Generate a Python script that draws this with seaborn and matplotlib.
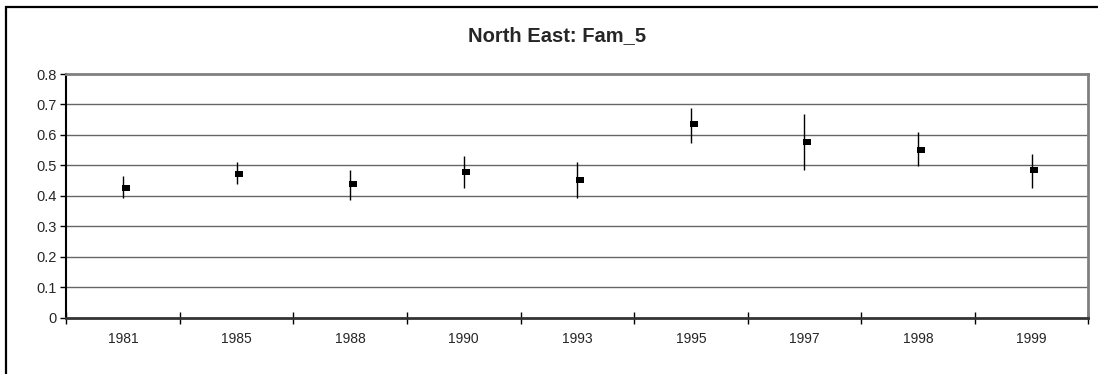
import matplotlib
matplotlib.use("Agg")
import matplotlib.pyplot as plt
import matplotlib.transforms as mtransforms
from matplotlib.patches import Rectangle
import numpy as np
import pandas as pd
import seaborn as sns

# Survey years, point estimates and interval bounds
years = ["1981", "1985", "1988", "1990", "1993", "1995", "1997", "1998", "1999"]
estimate = [0.427, 0.473, 0.440, 0.479, 0.453, 0.637, 0.578, 0.551, 0.486]
lower = [0.393, 0.439, 0.385, 0.425, 0.392, 0.575, 0.484, 0.498, 0.425]
upper = [0.466, 0.512, 0.486, 0.532, 0.512, 0.689, 0.670, 0.609, 0.538]
y_ticks = [0, 0.1, 0.2, 0.3, 0.4, 0.5, 0.6, 0.7, 0.8]
y_tick_labels = ["0", "0.1", "0.2", "0.3", "0.4", "0.5", "0.6", "0.7", "0.8"]

df = pd.DataFrame({"year": years, "estimate": estimate,
                   "lower": lower, "upper": upper})

sns.set_theme(style="white")
plt.rcParams["font.family"] = ["Liberation Sans", "DejaVu Sans"]

W, H = 1098, 374
fig = plt.figure(figsize=(W / 100, H / 100), dpi=100)
ax = fig.add_axes([66.3 / W, 1 - 317.7 / H, (1088.3 - 66.3) / W, (317.7 - 74) / H])

# Chart frame around the whole figure
fig.patches.append(Rectangle((6 / W, -0.1), 1.2, 1 - 7 / H + 0.1,
                             transform=fig.transFigure, fill=False,
                             edgecolor="black", linewidth=1.6, zorder=0))

# Error bars (vertical lines at each category)
pos = np.arange(len(years))
ax.vlines(pos, df["lower"], df["upper"], color="black", linewidth=1.0, zorder=3)

# Point estimates as small rectangular markers
rect_marker = [(-1.4, -1.0), (1.4, -1.0), (1.4, 1.0), (-1.4, 1.0), (-1.4, -1.0)]
sns.stripplot(data=df, x="year", y="estimate", order=years, jitter=False,
              marker=rect_marker, size=5.2, color="black", linewidth=0,
              ax=ax, zorder=4)
shift = mtransforms.ScaledTranslation(2.7 / 100, 0, fig.dpi_scale_trans)
for coll in ax.collections[1:]:
    coll.set_offset_transform(ax.transData + shift)

ax.set_xlim(-0.5, len(years) - 0.5)
ax.set_ylim(0, 0.8)
ax.set_yticks(y_ticks)
ax.set_yticklabels(y_tick_labels)
ax.set_xlabel("")
ax.set_ylabel("")

# Horizontal gridlines
for v in y_ticks[1:-1]:
    ax.axhline(v, color="#666666", linewidth=1.0, zorder=1)

# Axis styling
ax.spines["left"].set_color("black")
ax.spines["left"].set_linewidth(1.5)
ax.spines["bottom"].set_color("#333333")
ax.spines["bottom"].set_linewidth(2.0)
ax.spines["top"].set_color("#808080")
ax.spines["top"].set_linewidth(2.0)
ax.spines["right"].set_color("#808080")
ax.spines["right"].set_linewidth(2.0)

# Major ticks at category boundaries on x, labels centred in categories
ax.set_xticks(np.arange(-0.5, len(years), 1.0))
ax.set_xticklabels([])
ax.set_xticks(pos, minor=True)
ax.set_xticklabels(years, minor=True)
ax.tick_params(axis="x", which="major", direction="inout", length=8,
               width=1.0, color="black", bottom=True)
ax.tick_params(axis="x", which="minor", length=0, pad=10, labelsize=10,
               bottom=True)
ax.tick_params(axis="y", which="major", direction="out", length=4,
               width=1.0, color="black", left=True, labelsize=10.5, pad=3)

fig.text(557.5 / W, 1 - 36 / H, "North East: Fam_5", ha="center", va="center",
         fontsize=14.5, fontweight="bold")

fig.savefig("out.png", dpi=100)
